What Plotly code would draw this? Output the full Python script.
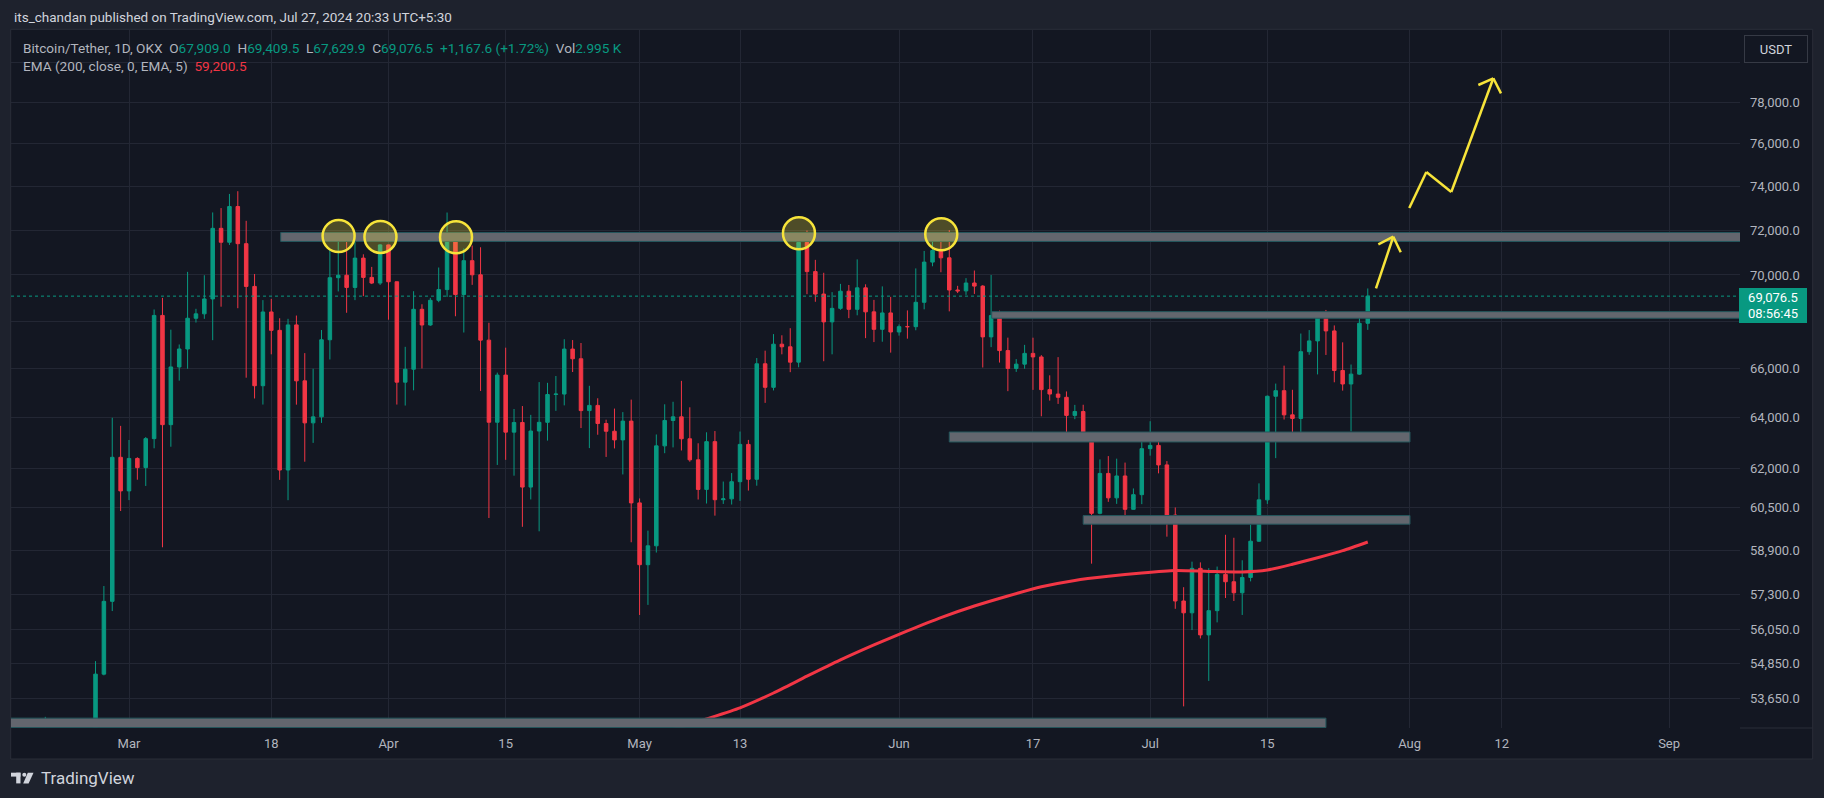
import math
import pandas as pd
import plotly.graph_objects as go

# ---------------- data (BTC/USDT daily, OKX) ----------------
start_date = "2024-02-15"

opens = [
    51830, 51930, 52160, 51660, 52120, 51780, 52260, 51840, 51300, 50730, 51570, 51730, 54491, 57037, 62432,
    61130, 62387, 62031, 63168, 68245, 63724, 66074, 66823, 68124, 68313, 68955, 72078, 71452, 73072, 71388, 69499,
    65300, 68393, 67609, 61937, 67840, 65501, 63796, 64037, 67211, 69880, 69988, 69455, 70744, 69892, 69645,
    71333, 69702, 65446, 65980, 68508, 67837, 68896, 69360, 71620, 69146, 70631, 70007, 67195, 63821, 65738,
    63426, 63812, 61277, 63470, 63818, 64941, 64960, 66819, 66414, 64289, 64499, 63770, 63462, 63118, 63866,
    60672, 58364, 59060, 62882, 63892, 64038, 63162, 62334, 61187, 63049, 60793, 60825, 61484, 62940, 61577,
    66206, 65235, 67024, 66915, 66274, 71446, 70148, 69166, 67969, 68549, 69290, 68507, 69436, 68398, 67652, 68352,
    67540, 67766, 67765, 68809, 70567, 71082, 70757, 69342, 69305, 69648, 69512, 67332, 68242, 66756, 66012,
    66191, 66639, 66490, 65140, 64960, 64828, 64096, 64252, 63180, 60277, 61804, 60864, 61706, 60427, 60986,
    62772, 62900, 62135, 60208, 57050, 56628, 58230, 55849, 56705, 58009, 57743, 57345, 57899, 59231, 60787,
    64870, 65097, 64118, 63974, 66710, 67163, 68154, 67585, 65927, 65372, 65777, 67909.0,
]
highs = [
    52400, 52570, 52190, 52380, 52480, 53050, 52370, 52030, 51550, 51680, 51950, 54938, 57588, 64000, 63676,
    63114, 62433, 63230, 68500, 69000, 67637, 67012, 70136, 68529, 69987, 72800, 73000, 73650, 73777, 72419, 70043,
    68904, 68956, 68124, 68100, 68240, 66650, 65999, 67624, 71150, 71561, 71769, 71552, 70913, 70355, 71366,
    71338, 69708, 66914, 69291, 68725, 69000, 70327, 72797, 71758, 71172, 71305, 71227, 67931, 65840, 66878,
    64355, 64473, 64117, 65450, 65419, 65700, 67233, 67199, 67075, 65297, 64789, 63923, 64370, 64228, 64734,
    60841, 59625, 63333, 64544, 64646, 65500, 64422, 62984, 63420, 63469, 61490, 61818, 63450, 63118, 66444,
    66752, 67451, 67400, 67700, 71515, 71979, 70666, 70096, 69250, 69610, 69562, 70687, 69591, 68913, 69500, 69044,
    67860, 68460, 70288, 71063, 71758, 71625, 71997, 69524, 69860, 70195, 69556, 69999, 68450, 67300, 66400,
    66996, 67298, 66566, 65728, 66482, 65066, 64520, 64525, 63370, 62350, 62480, 62379, 62226, 61224, 63058,
    63862, 63288, 62285, 60498, 57546, 58475, 58449, 58236, 58296, 59470, 59359, 58526, 59850, 61420, 64900,
    65388, 66128, 65133, 67474, 67620, 68380, 68480, 67818, 67102, 66175, 68200, 69409.5,
]
lows = [
    51300, 51630, 50630, 51560, 51680, 50770, 50630, 50930, 50530, 50580, 51280, 50931, 54450, 56691, 60364,
    60777, 61561, 61320, 62786, 59005, 62848, 65510, 66000, 67941, 68100, 67194, 68620, 71331, 68555, 65630, 64780,
    64533, 66600, 61555, 60775, 64529, 62260, 63000, 63794, 66385, 69280, 68359, 68903, 69076, 69601, 69562,
    68062, 64533, 64493, 65113, 66011, 67800, 68813, 69043, 68210, 67518, 69567, 65086, 60100, 62134, 62333,
    61716, 59768, 60803, 59600, 63090, 64278, 64500, 65864, 63589, 62794, 63322, 62447, 62781, 61765, 59191,
    56552, 56911, 58811, 62593, 62822, 62700, 62261, 60800, 60648, 60188, 60632, 60610, 60749, 61142, 61330,
    64602, 65107, 66600, 65858, 66060, 69162, 68832, 66312, 66600, 68487, 68128, 68250, 67279, 67113, 67128, 66670,
    67387, 67257, 67612, 68507, 70383, 70119, 68420, 69210, 69130, 69172, 66051, 66902, 66256, 65078, 65870,
    66000, 65130, 64060, 64693, 64559, 63379, 63944, 63178, 58402, 60239, 60712, 60634, 60063, 60422, 60624,
    62497, 61807, 59400, 56771, 53400, 56018, 55724, 54260, 56289, 57157, 57050, 56553, 57756, 59210, 60632,
    62400, 63930, 63238, 63300, 66580, 65765, 66573, 65441, 65100, 63456, 65750, 67629.9,
]
closes = [
    51930, 52160, 51660, 52120, 51780, 52260, 51840, 51300, 50730, 51570, 51730, 54491, 57037, 62432, 61130,
    62387, 62031, 63168, 68245, 63724, 66074, 66823, 68124, 68313, 68955, 72078, 71452, 73072, 71388, 69499, 65300,
    68393, 67609, 61937, 67840, 65501, 63796, 64037, 67211, 69880, 69988, 69455, 70744, 69892, 69645, 71333,
    69702, 65446, 65980, 68508, 67837, 68896, 69360, 71620, 69146, 70631, 70007, 67195, 63821, 65738, 63426,
    63812, 61277, 63470, 63818, 64941, 64960, 66819, 66414, 64289, 64499, 63770, 63462, 63118, 63866, 60672,
    58364, 59060, 62882, 63892, 64038, 63162, 62334, 61187, 63049, 60793, 60825, 61484, 62940, 61577, 66206,
    65235, 67024, 66915, 66274, 71446, 70148, 69166, 67969, 68549, 69290, 68507, 69436, 68398, 67652, 68352, 67540,
    67766, 67765, 68809, 70567, 71082, 70757, 69342, 69305, 69648, 69512, 67332, 68242, 66756, 66012, 66191,
    66639, 66490, 65140, 64960, 64828, 64096, 64252, 63180, 60277, 61804, 60864, 61706, 60427, 60986, 62772,
    62900, 62135, 60208, 57050, 56628, 58230, 55849, 56705, 58009, 57743, 57345, 57899, 59231, 60787, 64870,
    65097, 64118, 63974, 66710, 67163, 68154, 67585, 65927, 65372, 65777, 67908.9, 69076.5,
]
last_volume_k = 2.995

# EMA(200) values
ema_dates = ["2024-04-28", "2024-05-01", "2024-05-05", "2024-05-09", "2024-05-13", "2024-05-17",
             "2024-05-21", "2024-05-25", "2024-05-29", "2024-06-02", "2024-06-06", "2024-06-10",
             "2024-06-14", "2024-06-18", "2024-06-22", "2024-06-26", "2024-06-30", "2024-07-04",
             "2024-07-08", "2024-07-12", "2024-07-15", "2024-07-18", "2024-07-21", "2024-07-24",
             "2024-07-27"]
ema_values = [52050, 52300, 52630, 52980, 53350, 53850, 54420, 54980, 55500, 55990, 56460, 56870,
              57230, 57560, 57790, 57940, 58060, 58150, 58120, 58100, 58170, 58380, 58620, 58880,
              59200.5]

# drawn horizontal zones: (start, end, low, high)
zone_starts = ["2024-03-19 03:00", "2024-06-12 01:40", "2024-06-07 00:00", "2024-06-23 00:00", "2024-02-10"]
zone_ends = ["2024-09-12", "2024-09-12", "2024-08-01 01:00", "2024-08-01 01:00", "2024-07-22 00:00"]
zone_lows = [71487, 68124, 63036, 59867, 52695]
zone_highs = [71891, 68407, 63432, 60191, 53007]

# circled tops
circle_dates = ["2024-03-26 01:00", "2024-03-31 01:00", "2024-04-09 01:40", "2024-05-20 01:00", "2024-06-06 01:00"]
circle_prices = [71730, 71690, 71676, 71856, 71811]

# projection arrows (date, price)
arrow1_shaft = [("2024-07-27 23:30", 69417), ("2024-07-30 01:10", 71702)]
arrow1_head = [("2024-07-28 06:15", 71360), ("2024-07-30 01:10", 71702), ("2024-07-30 22:30", 71003)]
arrow2_shaft = [("2024-07-31 23:00", 73004), ("2024-08-03 00:00", 74673),
                ("2024-08-05 23:30", 73741), ("2024-08-11 00:00", 79193)]
arrow2_head = [("2024-08-09 05:00", 78861), ("2024-08-11 00:00", 79193), ("2024-08-11 22:00", 78451)]

x_tick_dates = ["2024-03-01", "2024-03-18", "2024-04-01", "2024-04-15", "2024-05-01", "2024-05-13",
                "2024-06-01", "2024-06-17", "2024-07-01", "2024-07-15", "2024-08-01", "2024-08-12",
                "2024-09-01"]
x_tick_text = ["Mar", "18", "Apr", "15", "May", "13", "Jun", "17", "Jul", "15", "Aug", "12", "Sep"]
y_tick_vals = [53650, 54850, 56050, 57300, 58900, 60500, 62000, 64000, 66000, 68000, 70000,
               72000, 74000, 76000, 78000, 80000]
# labels hidden behind the price tag / currency box in the reference
y_hidden_labels = [68000, 80000]

# ---------------- styling / layout ----------------
W, H = 1824, 798
PL, PR, PT, PB = 11, 1740, 30, 728
X_RANGE = ["2024-02-15 21:39", "2024-09-09 11:17"]
Y_RANGE = [52680, 81630]

GREEN = "#089981"
RED = "#f23645"
GRAY = "#b2b5be"
YELLOW = "#f7e43a"
PANE = "#131722"
OUTER = "#1e222d"
GRID = "#232734"
FONT = "Roboto, Arial, sans-serif"

x0_ts = pd.Timestamp(X_RANGE[0])
x1_ts = pd.Timestamp(X_RANGE[1])
px_per_day = (PR - PL) / ((x1_ts - x0_ts).total_seconds() / 86400)
px_per_ln = (PB - PT) / math.log(Y_RANGE[1] / Y_RANGE[0])


def fx(p):
    return (p - PL) / (PR - PL)


def fy(p):
    return (PB - p) / (PB - PT)


dates = pd.date_range(start_date, periods=len(closes), freq="D")
assert len(opens) == len(highs) == len(lows) == len(closes)

fig = go.Figure()
fig.add_trace(go.Candlestick(
    x=dates, open=opens, high=highs, low=lows, close=closes,
    increasing=dict(line=dict(color=GREEN, width=1), fillcolor=GREEN),
    decreasing=dict(line=dict(color=RED, width=1), fillcolor=RED),
    whiskerwidth=0, showlegend=False, hoverinfo="skip",
))
fig.add_trace(go.Scatter(
    x=pd.to_datetime(ema_dates), y=ema_values, mode="lines",
    line=dict(color=RED, width=3, shape="spline", smoothing=0.6),
    showlegend=False, hoverinfo="skip",
))

shapes = []
# last price dotted line
shapes.append(dict(type="line", xref="paper", yref="y", x0=0, x1=1, y0=closes[-1], y1=closes[-1],
                   line=dict(color=GREEN, width=1, dash="dot"), layer="above"))
# zones
for s, e, lo, hi in zip(zone_starts, zone_ends, zone_lows, zone_highs):
    shapes.append(dict(type="rect", xref="x", yref="y", x0=s, x1=e, y0=lo, y1=hi,
                       fillcolor="#63666e", line=dict(color="#24575d", width=1), layer="above"))
# circles
R_PX = 16
for d, p in zip(circle_dates, circle_prices):
    c = pd.Timestamp(d)
    dd = pd.Timedelta(days=R_PX / px_per_day)
    k = math.exp(R_PX / px_per_ln)
    shapes.append(dict(type="circle", xref="x", yref="y", x0=c - dd, x1=c + dd, y0=p / k, y1=p * k,
                       fillcolor="rgba(255,235,59,0.25)", line=dict(color=YELLOW, width=2.5), layer="above"))
# arrows
for poly in (arrow1_shaft, arrow1_head, arrow2_shaft, arrow2_head):
    for (xa, ya), (xb, yb) in zip(poly[:-1], poly[1:]):
        shapes.append(dict(type="line", xref="x", yref="y", x0=xa, x1=xb, y0=ya, y1=yb,
                           line=dict(color=YELLOW, width=2.5), layer="above"))
# panel frame and axis corner
shapes.insert(0, dict(type="rect", xref="paper", yref="paper", x0=fx(10.7), x1=fx(1812.7), y0=fy(759),
                      y1=fy(29.3), fillcolor=PANE, line=dict(color="#2a2e39", width=1), layer="below"))
shapes.append(dict(type="line", xref="paper", yref="paper", x0=fx(1740), x1=fx(1812.7), y0=fy(728), y1=fy(728),
                   line=dict(color="#2a2e39", width=1)))
# TradingView logo glyph
LOGO = "#d1d4dc"
shapes.append(dict(type="rect", xref="paper", yref="paper", x0=fx(11), x1=fx(20.5), y0=fy(776.6), y1=fy(772.7),
                   fillcolor=LOGO, line=dict(width=0)))
shapes.append(dict(type="rect", xref="paper", yref="paper", x0=fx(16.2), x1=fx(20.5), y0=fy(783.4), y1=fy(772.7),
                   fillcolor=LOGO, line=dict(width=0)))
shapes.append(dict(type="circle", xref="paper", yref="paper", x0=fx(22.3), x1=fx(26.3), y0=fy(776.7), y1=fy(772.7),
                   fillcolor=LOGO, line=dict(width=0)))
shapes.append(dict(type="path", xref="paper", yref="paper",
                   path=f"M {fx(27.8)} {fy(772.7)} L {fx(33.5)} {fy(772.7)} L {fx(28.6)} {fy(783.4)} "
                        f"L {fx(23.2)} {fy(783.4)} Z",
                   fillcolor=LOGO, line=dict(width=0)))

NB = "\u00a0"


def fmt(v):
    return f"{v:,.1f}"


chg = closes[-1] - closes[-2]
pct = chg / closes[-2] * 100


def g(t):
    return f"<span style='color:{GRAY}'>{t}</span>"


def c(t, col=GREEN):
    return f"<span style='color:{col}'>{t}</span>"


legend1 = (g("Bitcoin/Tether, 1D, OKX") + NB * 2 +
           g("O") + c(fmt(opens[-1])) + NB * 2 +
           g("H") + c(fmt(highs[-1])) + NB * 2 +
           g("L") + c(fmt(lows[-1])) + NB * 2 +
           g("C") + c(fmt(closes[-1])) + NB * 2 +
           c(f"+{chg:,.1f} (+{pct:.2f}%)") + NB * 2 +
           g("Vol") + c(f"{last_volume_k:.3f}{NB}K"))
legend2 = g("EMA (200, close, 0, EMA, 5)") + NB * 2 + c(fmt(ema_values[-1]), RED)

annotations = [
    dict(text="its_chandan published on TradingView.com, Jul 27, 2024 20:33 UTC+5:30",
         x=fx(11.7), y=fy(16.7), xanchor="left", yanchor="middle",
         font=dict(family=FONT, size=13.5, color="#d1d4dc")),
    dict(text=legend1, x=fx(20.7), y=fy(47.7), xanchor="left", yanchor="middle",
         font=dict(family=FONT, size=13.6, color=GRAY)),
    dict(text=legend2, x=fx(20.7), y=fy(65.7), xanchor="left", yanchor="middle",
         font=dict(family=FONT, size=13.6, color=GRAY)),
    dict(text="USDT", x=fx(1776), y=fy(48.8), xanchor="center", yanchor="middle",
         width=60, height=24, bgcolor=PANE, bordercolor="#363a45", borderwidth=1, borderpad=1,
         font=dict(family=FONT, size=13, color="#d1d4dc")),
    dict(text=f"{fmt(closes[-1])}<br>08:56:45", x=fx(1739.3), y=fy(287.7), xanchor="left", yanchor="top",
         width=68, height=35, bgcolor=GREEN, borderwidth=0, borderpad=0, align="center",
         font=dict(family=FONT, size=13, color="#ffffff")),
    dict(text="TradingView", x=fx(38.5), y=fy(778.3), xanchor="left", yanchor="middle",
         font=dict(family=FONT, size=17, color="#d1d4dc")),
]
for a in annotations:
    a.setdefault("xref", "paper")
    a.setdefault("yref", "paper")
    a.setdefault("showarrow", False)

fig.update_layout(
    width=W, height=H,
    margin=dict(l=PL, r=W - PR, t=PT, b=H - PB, pad=0, autoexpand=False),
    paper_bgcolor=OUTER, plot_bgcolor=PANE,
    showlegend=False, hovermode=False, boxgap=0.4,
    shapes=shapes, annotations=annotations,
    xaxis=dict(type="date", range=X_RANGE, rangeslider=dict(visible=False),
               tickvals=x_tick_dates, ticktext=x_tick_text, ticks="", ticklabelstandoff=6,
               showgrid=True, gridcolor=GRID, gridwidth=1, zeroline=False, showline=False,
               tickfont=dict(family=FONT, size=13, color=GRAY), fixedrange=True),
    yaxis=dict(type="log", side="right", range=[math.log10(Y_RANGE[0]), math.log10(Y_RANGE[1])],
               tickvals=y_tick_vals,
               ticktext=["" if v in y_hidden_labels else fmt(v) for v in y_tick_vals], ticks="",
               ticklabelstandoff=9, showgrid=True, gridcolor=GRID, gridwidth=1, zeroline=False,
               showline=False, tickfont=dict(family=FONT, size=13, color=GRAY), fixedrange=True),
)

fig.write_html("out.html", config={"displayModeBar": False},
               post_script="document.body.style.margin='0';document.body.style.overflow='hidden';")
